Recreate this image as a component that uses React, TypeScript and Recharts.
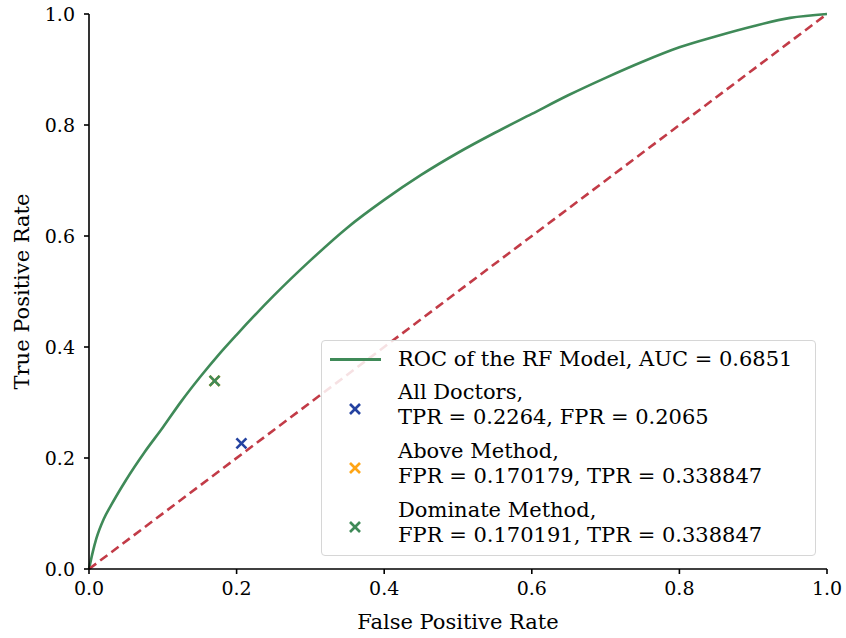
import React from "react";
import {
  ComposedChart,
  Line,
  Scatter,
  XAxis,
  YAxis,
} from "recharts";

// ROC curve of the RF model
const fprValues = [
  0, 0.005, 0.01, 0.02, 0.03, 0.05, 0.075, 0.1, 0.125, 0.15, 0.175, 0.2, 0.25,
  0.3, 0.35, 0.4, 0.45, 0.5, 0.55, 0.6, 0.65, 0.7, 0.75, 0.8, 0.85, 0.9, 0.95,
  1.0,
];
const tprValues = [
  0, 0.03, 0.055, 0.09, 0.115, 0.16, 0.21, 0.255, 0.302, 0.345, 0.385, 0.422,
  0.492, 0.556, 0.615, 0.665, 0.71, 0.75, 0.786, 0.82, 0.854, 0.885, 0.914,
  0.94, 0.96, 0.978, 0.993, 1.0,
];

const chanceX = [0, 1];
const chanceY = [0, 1];

const pointNames = ["All Doctors", "Above Method", "Dominate Method"];
const pointFpr = [0.2065, 0.170179, 0.170191];
const pointTpr = [0.2264, 0.338847, 0.338847];
const pointText = [
  "TPR = 0.2264, FPR = 0.2065",
  "FPR = 0.170179, TPR = 0.338847",
  "FPR = 0.170191, TPR = 0.338847",
];
const pointColors = ["#2442a0", "#ffa515", "#3f8a58"];

const ticks = [0, 0.2, 0.4, 0.6, 0.8, 1.0];

const rocColor = "#3f8a58";
const chanceColor = "#c23b47";
const font = "'DejaVu Serif', serif";

const rocData = fprValues.map((x, i) => ({ x, roc: tprValues[i] }));
const chanceData = chanceX.map((x, i) => ({ x, chance: chanceY[i] }));

const XMark = (props: any) => {
  const { cx, cy, fill } = props;
  const s = 5;
  return (
    <g stroke={fill} strokeWidth={2.6}>
      <line x1={cx - s} y1={cy - s} x2={cx + s} y2={cy + s} />
      <line x1={cx - s} y1={cy + s} x2={cx + s} y2={cy - s} />
    </g>
  );
};

const tickStyle = { fill: "#000", fontSize: 19, fontFamily: font };

const LegendBox = () => (
  <div
    style={{
      position: "absolute",
      left: 321,
      top: 340,
      width: 495,
      height: 216,
      border: "1.5px solid #d6d6d6",
      borderRadius: 4,
      background: "rgba(255,255,255,0.85)",
      fontFamily: font,
      fontSize: 21,
      color: "#000",
      boxSizing: "border-box",
    }}
  >
    <div style={{ position: "absolute", left: 8, top: 17, width: 51, height: 3, background: rocColor }} />
    <div style={{ position: "absolute", left: 76, top: 5, whiteSpace: "nowrap", lineHeight: "26px" }}>
      ROC of the RF Model, AUC = 0.6851
    </div>
    {pointNames.map((name, i) => (
      <React.Fragment key={name}>
        <svg
          width={14}
          height={14}
          style={{ position: "absolute", left: 26, top: 61 + i * 59 }}
        >
          <XMark cx={7} cy={7} fill={pointColors[i]} />
        </svg>
        <div
          style={{
            position: "absolute",
            left: 76,
            top: 39 + i * 59,
            whiteSpace: "nowrap",
            lineHeight: "25px",
          }}
        >
          {name},<br />
          {pointText[i]}
        </div>
      </React.Fragment>
    ))}
  </div>
);

const App = () => {
  return (
    <div style={{ position: "absolute", left: 0, top: 0, width: 846, height: 638, background: "#fff" }}>
      <ComposedChart
        width={846}
        height={638}
        margin={{ top: 14, right: 19, bottom: 29, left: 29 }}
      >
        <XAxis
          xAxisId="main"
          dataKey="x"
          type="number"
          domain={[0, 1]}
          ticks={ticks}
          tickFormatter={(v) => v.toFixed(1)}
          tick={tickStyle}
          tickSize={5}
          tickMargin={8}
          height={40}
          stroke="#000"
          strokeWidth={1.6}
          allowDuplicatedCategory={false}
          label={{
            value: "False Positive Rate",
            position: "insideBottom",
            offset: -20,
            style: { fill: "#000", fontSize: 21, fontFamily: font },
          }}
        />
        <XAxis
          xAxisId="top"
          orientation="top"
          type="number"
          dataKey="x"
          domain={[0, 1]}
          tick={false}
          tickLine={false}
          height={0}
          stroke="#000"
          strokeWidth={1.6}
        />
        <YAxis
          yAxisId="main"
          type="number"
          domain={[0, 1]}
          ticks={ticks}
          tickFormatter={(v) => v.toFixed(1)}
          tick={tickStyle}
          tickSize={5}
          tickMargin={9}
          width={60}
          stroke="#000"
          strokeWidth={1.6}
          label={{
            value: "True Positive Rate",
            angle: -90,
            position: "insideLeft",
            offset: -7,
            style: { fill: "#000", fontSize: 21, fontFamily: font, textAnchor: "middle" },
          }}
        />
        <YAxis
          yAxisId="right"
          orientation="right"
          type="number"
          domain={[0, 1]}
          tick={false}
          tickLine={false}
          width={0}
          stroke="#000"
          strokeWidth={1.6}
        />
        <Line
          xAxisId="main"
          yAxisId="main"
          data={rocData}
          dataKey="roc"
          type="monotone"
          stroke={rocColor}
          strokeWidth={2.6}
          dot={false}
          isAnimationActive={false}
        />
        <Line
          xAxisId="main"
          yAxisId="main"
          data={chanceData}
          dataKey="chance"
          type="linear"
          stroke={chanceColor}
          strokeWidth={2.6}
          strokeDasharray="9 5"
          dot={false}
          isAnimationActive={false}
        />
        {pointNames.map((name, i) => (
          <Scatter
            key={name}
            xAxisId="main"
            yAxisId="main"
            name={name}
            data={[{ x: pointFpr[i], y: pointTpr[i] }]}
            dataKey="y"
            fill={pointColors[i]}
            shape={<XMark />}
            isAnimationActive={false}
          />
        ))}
      </ComposedChart>
      <LegendBox />
    </div>
  );
};

export default App;
